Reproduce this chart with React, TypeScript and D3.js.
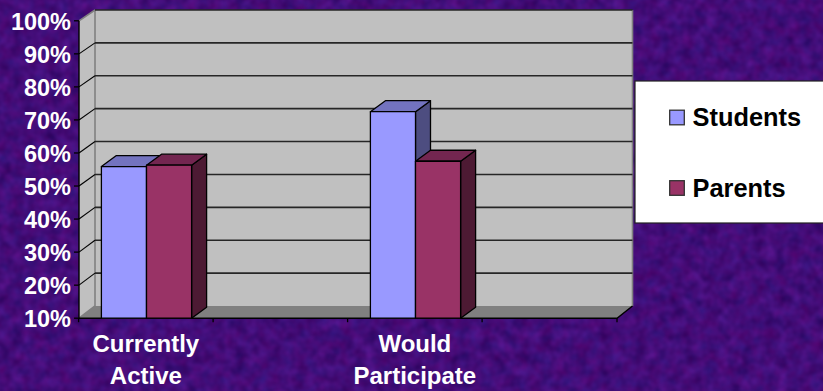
import React from "react";
import * as d3 from "d3";

const categories = ["Currently Active", "gap-1", "Would Participate", "gap-2"];
const categoryLines: Record<string, string[]> = {
  "Currently Active": ["Currently", "Active"],
  "Would Participate": ["Would", "Participate"],
};
const seriesNames = ["Students", "Parents"];
const students = [55.9, 72.5];
const parents = [56.3, 57.5];
const barCategories = ["Currently Active", "Would Participate"];
const tickValues = [10, 20, 30, 40, 50, 60, 70, 80, 90, 100];

const W = 823;
const H = 391;
const FONT = "'Liberation Sans', Arial, sans-serif";
const DEPTH_X = 15;
const DEPTH_Y = 11;

const palette: Record<string, { face: string; top: string; side: string }> = {
  Students: { face: "#9999ff", top: "#7373bf", side: "#4d4d80" },
  Parents: { face: "#993366", top: "#732650", side: "#4d1a33" },
};

export default function App() {
  const x = d3.scaleBand<string>().domain(categories).range([78.6, 616.6]);
  const inner = d3.scaleBand<string>().domain(seriesNames).range([22.8, 113]);
  const y = d3.scaleLinear().domain([10, 100]).range([318.2, 20.8]);
  const yBack = d3.scaleLinear().domain([10, 100]).range([306, 10]);
  const values: Record<string, number[]> = { Students: students, Parents: parents };
  const pts = (p: number[][]) => p.map((q) => q.join(",")).join(" ");
  const floorY = y(10);
  const backL = 95;
  const backR = 632.5;

  return (
    <svg
      width={W}
      height={H}
      viewBox={`0 0 ${W} ${H}`}
      style={{ position: "fixed", left: 0, top: 0, display: "block" }}
    >
      <defs>
        <filter id="mottle" x="0" y="0" width="100%" height="100%" colorInterpolationFilters="sRGB">
          <feTurbulence type="fractalNoise" baseFrequency="0.085" numOctaves={2} seed={7} />
          <feColorMatrix
            type="matrix"
            values="0.2 0.08 0 0 0.12  0 0.1 0 0 0  0.08 0.2 0 0 0.33  0 0 0 0 1"
          />
        </filter>
      </defs>
      <rect width={W} height={H} fill="#4a0c80" />
      <rect width={W} height={H} filter="url(#mottle)" />

      {/* back wall, side wall and floor */}
      <rect x={backL} y={yBack(100)} width={backR - backL} height={yBack(10) - yBack(100)} fill="#c0c0c0" />
      <polygon
        points={pts([[79, floorY], [79, y(100)], [backL, yBack(100)], [backL, yBack(10)]])}
        fill="#c0c0c0"
      />
      <polygon
        points={pts([[79, floorY], [backL, yBack(10)], [backR, yBack(10)], [617, floorY]])}
        fill="#808080"
      />
      <path
        d={`M${backL},${yBack(10)}V${yBack(100)}M${backR},${yBack(100)}V${yBack(10)}M79,${y(100)}L${backL},${yBack(100)}M79,${floorY}L${backL},${yBack(10)}`}
        stroke="#808080"
        strokeWidth={1.6}
        fill="none"
      />

      {/* gridlines wrap from the back wall across the side wall */}
      {tickValues.filter((t) => t > 10).map((t) => (
        <g key={t} stroke="#262626" strokeWidth={1.6} fill="none">
          <line x1={backL} x2={backR} y1={yBack(t)} y2={yBack(t)} />
          {t < 100 && <line x1={79} x2={backL} y1={y(t)} y2={yBack(t)} stroke="#000" strokeWidth={1.1} />}
        </g>
      ))}

      {/* axes */}
      <path d={`M79,${y(100)}V${floorY}H617L${backR},${yBack(10)}`} stroke="#000" strokeWidth={1.4} fill="none" />
      {tickValues.map((t) => (
        <line key={t} x1={74} x2={79} y1={y(t)} y2={y(t)} stroke="#000" strokeWidth={1.3} />
      ))}
      {categories.concat("end").map((c) => {
        const px = c === "end" ? 617 : (x(c) as number);
        return <line key={c} x1={px} x2={px} y1={floorY} y2={floorY + 4} stroke="#000" strokeWidth={1.3} />;
      })}

      {/* bars, each with a top and a side face */}
      {barCategories.map((c, i) =>
        seriesNames.map((s) => {
          const left = (x(c) as number) + (inner(s) as number);
          const right = left + inner.bandwidth();
          const top = y(values[s][i]);
          const col = palette[s];
          return (
            <g key={c + s} stroke="#000" strokeWidth={1.3} strokeLinejoin="round">
              <polygon
                points={pts([[right, floorY], [right, top], [right + DEPTH_X, top - DEPTH_Y], [right + DEPTH_X, floorY - DEPTH_Y]])}
                fill={col.side}
              />
              <polygon
                points={pts([[left, top], [left + DEPTH_X, top - DEPTH_Y], [right + DEPTH_X, top - DEPTH_Y], [right, top]])}
                fill={col.top}
              />
              <rect x={left} y={top} width={right - left} height={floorY - top} fill={col.face} />
            </g>
          );
        })
      )}

      {/* value axis labels */}
      {tickValues.map((t) => (
        <text
          key={t}
          x={71}
          y={y(t) + 8.8}
          textAnchor="end"
          fontFamily={FONT}
          fontWeight="bold"
          fontSize={23.5}
          fill="#fff"
        >
          {t}%
        </text>
      ))}

      {/* category labels */}
      {barCategories.map((c) =>
        categoryLines[c].map((line, i) => (
          <text
            key={line}
            x={(x(c) as number) + x.bandwidth() / 2}
            y={352 + i * 32}
            textAnchor="middle"
            fontFamily={FONT}
            fontWeight="bold"
            fontSize={24}
            fill="#fff"
          >
            {line}
          </text>
        ))
      )}

      {/* legend */}
      <rect x={635} y={81} width={200} height={142} fill="#fff" stroke="#222" strokeWidth={1.2} />
      {seriesNames.map((s, i) => (
        <g key={s}>
          <rect
            x={669.7}
            y={110.2 + i * 70.5}
            width={14.6}
            height={14.6}
            fill={palette[s].face}
            stroke="#333"
            strokeWidth={1.3}
          />
          <text
            x={692.5}
            y={126 + i * 70.7}
            fontFamily={FONT}
            fontWeight="bold"
            fontSize={25.4}
            fill="#000"
          >
            {s}
          </text>
        </g>
      ))}
    </svg>
  );
}
